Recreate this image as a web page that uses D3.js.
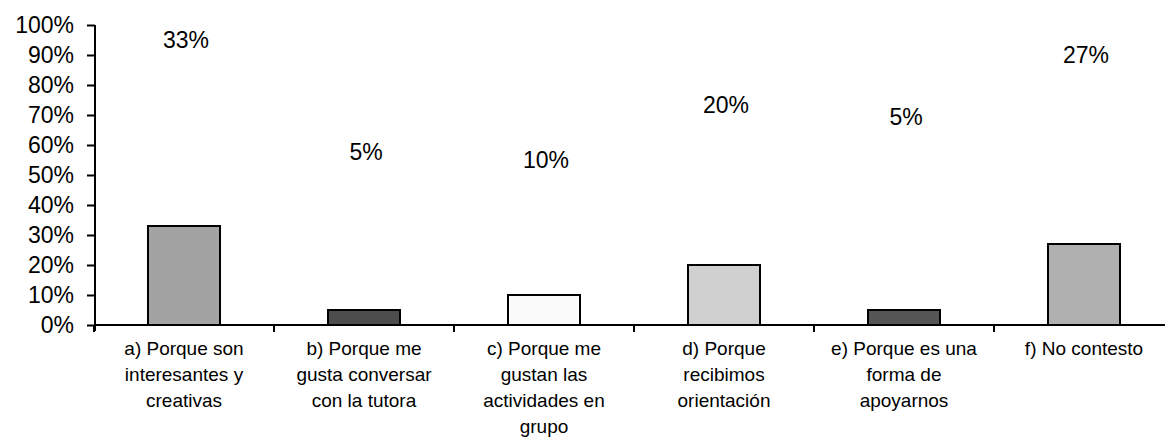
<!DOCTYPE html>
<html>
<head>
<meta charset="utf-8">
<script src="https://cdn.jsdelivr.net/npm/d3@7"></script>
<style>
  html, body { margin: 0; padding: 0; background: #fff; }
  svg { display: block; font-family: "Liberation Sans", Arial, sans-serif; }
</style>
</head>
<body>
<svg id="chart" width="1165" height="439"></svg>
<script>
// Survey answers and their share of responses
const categories = ["a", "b", "c", "d", "e", "f"];
const categoryLabels = [
  ["a) Porque son", "interesantes y", "creativas"],
  ["b) Porque me", "gusta conversar", "con la tutora"],
  ["c) Porque me", "gustan las", "actividades en", "grupo"],
  ["d) Porque", "recibimos", "orientación"],
  ["e) Porque es una", "forma de", "apoyarnos"],
  ["f) No contesto"]
];
const values = [0.33, 0.05, 0.10, 0.20, 0.05, 0.27];
const valueLabels = ["33%", "5%", "10%", "20%", "5%", "27%"];
const yTicks = [0, 0.1, 0.2, 0.3, 0.4, 0.5, 0.6, 0.7, 0.8, 0.9, 1.0];

// Bar fills (grey shades) and the height at which each value label sits
const fills = ["#a3a3a3", "#4d4d4d", "#fafafa", "#d0d0d0", "#555555", "#b0b0b0"];
const labelLevels = [0.95, 0.577, 0.55, 0.733, 0.693, 0.90];

const svg = d3.select("#chart");
const x0 = 94, x1 = 1174, yTop = 25, yBottom = 325;

const x = d3.scaleBand()
  .domain(categories)
  .range([x0, x1])
  .paddingInner(0.6)
  .paddingOuter(0.3);
const step = x.step();

const y = d3.scaleLinear().domain([0, 1]).range([yBottom, yTop]);

// Y axis
const yAxis = d3.axisLeft(y)
  .tickValues(yTicks)
  .tickFormat(d3.format(".0%"))
  .tickSize(8)
  .tickPadding(13);
const gy = svg.append("g").attr("transform", `translate(${x0 + 1},0)`).call(yAxis);
gy.select(".domain").attr("stroke", "#000").attr("stroke-width", 2).attr("d", `M0,${yTop}V${yBottom + 6}`);
gy.selectAll(".tick line").attr("stroke", "#000").attr("stroke-width", 2);
gy.selectAll(".tick text").attr("fill", "#000").style("font-size", "23px")
  .style("font-family", "'Liberation Sans', Arial, sans-serif");

// Bars
svg.append("g").selectAll("rect")
  .data(values)
  .join("rect")
  .attr("x", (d, i) => x(categories[i]))
  .attr("y", d => y(d))
  .attr("width", x.bandwidth())
  .attr("height", d => y(0) - y(d))
  .attr("fill", (d, i) => fills[i])
  .attr("stroke", "#000")
  .attr("stroke-width", 2);

// X axis baseline and category separators
svg.append("line")
  .attr("x1", x0).attr("x2", 1165)
  .attr("y1", yBottom).attr("y2", yBottom)
  .attr("stroke", "#000").attr("stroke-width", 2);

const boundaries = categories.map((c, i) => x0 + i * step);
svg.append("g").selectAll("line")
  .data(boundaries)
  .join("line")
  .attr("x1", d => d).attr("x2", d => d)
  .attr("y1", yBottom).attr("y2", yBottom + 7)
  .attr("stroke", "#000").attr("stroke-width", 2);

// Category labels
const lab = svg.append("g").selectAll("text")
  .data(categoryLabels)
  .join("text")
  .attr("x", (d, i) => x(categories[i]) + x.bandwidth() / 2)
  .attr("y", 348)
  .attr("text-anchor", "middle")
  .style("font-size", "19px")
  .attr("fill", "#000");
lab.selectAll("tspan")
  .data(d => d)
  .join("tspan")
  .attr("x", function () { return d3.select(this.parentNode).attr("x"); })
  .attr("dy", (d, i) => i === 0 ? "0.35em" : "26px")
  .text(d => d);

// Value labels
svg.append("g").selectAll("text")
  .data(valueLabels)
  .join("text")
  .attr("x", (d, i) => x(categories[i]) + x.bandwidth() / 2 + 2)
  .attr("y", (d, i) => y(labelLevels[i]))
  .attr("dy", "0.35em")
  .attr("text-anchor", "middle")
  .style("font-size", "23px")
  .attr("fill", "#000")
  .text(d => d);
</script>
</body>
</html>
